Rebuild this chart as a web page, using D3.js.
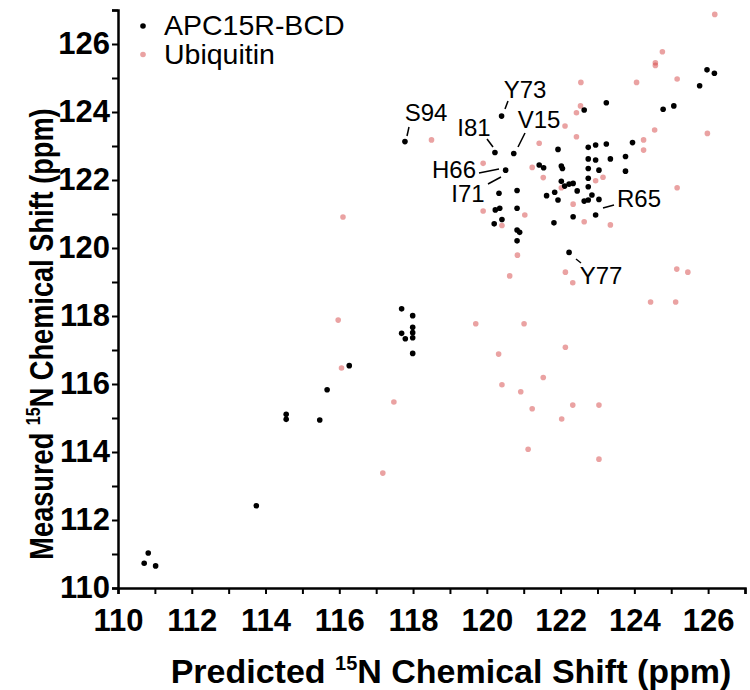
<!DOCTYPE html>
<html><head><meta charset="utf-8">
<script src="https://cdn.jsdelivr.net/npm/d3@7"></script>
<style>body{margin:0;background:#fff}</style>
</head><body>
<svg id="c" width="750" height="690"></svg>
<script>
// APC15R-BCD: predicted (x) and measured (y) 15N shifts
const apcX = [110.71,110.82,111.02,113.75,114.56,114.56,115.47,115.67,116.27,117.69,117.99,117.69,117.79,117.99,117.99,117.99,117.99,
  117.78,120.40,120.22,120.73,120.51,120.33,120.82,120.23,120.35,120.82,120.20,120.41,120.82,120.89,120.82,
  121.93,121.42,121.54,122.02,122.11,121.62,121.84,121.93,121.82,122.23,122.64,123.24,124.78,125.07,125.77,125.97,126.17,
  123.95,122.75,122.95,123.24,122.75,122.95,123.35,123.76,122.75,123.04,123.76,122.02,122.05,122.75,122.75,122.23,122.34,
  122.45,122.64,122.75,122.85,123.04,122.95,122.34];
const apcY = [110.73,111.03,110.65,112.42,115.11,114.96,114.94,115.83,116.54,118.21,118.01,117.49,117.33,117.67,117.51,117.36,116.90,
  123.13,123.88,122.81,122.78,122.29,121.61,121.69,121.12,121.17,121.17,120.71,120.84,120.53,120.46,120.21,
  122.90,122.44,122.36,121.96,121.82,121.54,121.64,121.41,120.74,119.87,124.06,124.27,124.08,124.18,124.77,125.24,125.14,
  123.10,122.96,123.03,123.06,122.62,122.59,122.62,122.69,122.34,122.29,122.26,122.41,122.34,122.05,121.80,121.88,121.90,
  121.68,121.38,121.41,121.56,121.43,120.97,120.92];
// Ubiquitin
const ubqX = [118.50,119.90,119.90,120.41,121.03,120.83,120.62,121.23,121.42,121.53,122.12,122.43,122.54,122.55,122.43,122.34,122.02,
  122.64,123.35,122.13,122.33,119.70,121.01,122.13,120.32,121.53,120.41,120.92,122.33,123.04,121.23,122.03,121.12,123.04,
  116.06,115.97,117.48,117.18,116.10,126.18,124.76,124.57,124.57,124.06,125.16,124.55,125.98,124.25,124.25,123.15,122.95,
  125.16,125.15,125.45,124.44,125.12];
const ubqY = [123.18,122.49,121.09,120.66,120.97,119.79,119.18,122.37,123.08,122.07,123.59,123.98,124.18,124.87,123.27,121.29,121.77,
  120.77,120.68,119.29,118.98,117.77,117.77,117.08,116.88,116.19,115.98,115.77,115.38,115.38,115.27,114.97,114.08,113.79,
  116.47,117.88,115.47,113.38,120.91,126.87,125.77,125.45,125.37,124.87,124.97,123.47,123.37,123.18,122.88,122.08,121.98,
  121.77,119.38,119.29,118.41,118.41];
// Residue labels
const labelNames = ["S94","Y73","I81","V15","H66","I71","R65","Y77"];
const seriesNames = ["APC15R-BCD","Ubiquitin"];
const xTickLabels = [110,112,114,116,118,120,122,124,126];
const yTickLabels = [110,112,114,116,118,120,122,124,126];

const svg = d3.select("#c");
const x = d3.scaleLinear().domain([110,127]).range([118,745]);
const y = d3.scaleLinear().domain([110,127]).range([588,10]);
const font = "'Liberation Sans', Arial, sans-serif";

const pink = "#d64545";
svg.append("g").selectAll("circle").data(ubqX.map((v,i)=>[v,ubqY[i]])).join("circle")
  .attr("cx",d=>x(d[0])).attr("cy",d=>y(d[1])).attr("r",2.8).attr("fill",pink).attr("fill-opacity",0.5);
svg.append("g").selectAll("circle").data(apcX.map((v,i)=>[v,apcY[i]])).join("circle")
  .attr("cx",d=>x(d[0])).attr("cy",d=>y(d[1])).attr("r",2.8).attr("fill","#000");

const ints = d3.range(110,128);
const xa = svg.append("g").attr("transform","translate(0,588)")
  .call(d3.axisBottom(x).tickValues(ints).tickSize(6).tickPadding(15)
    .tickFormat(d=>xTickLabels.includes(d)?d:""));
const ya = svg.append("g").attr("transform","translate(118,0)")
  .call(d3.axisLeft(y).tickValues(ints).tickSize(6).tickPadding(2)
    .tickFormat(d=>yTickLabels.includes(d)?d:""));
[xa,ya].forEach(a=>{
  a.select(".domain").attr("stroke-width",2.5).attr("stroke","#000");
  a.selectAll(".tick line").attr("stroke-width",2).attr("stroke","#000");
  a.selectAll(".tick text").attr("font-family",font).attr("font-weight","bold").attr("font-size",31).attr("fill","#000");
});

// Axis titles
function title(sel, pre){
  sel.attr("text-anchor","middle").attr("font-family",font).attr("font-weight","bold").attr("font-size",34);
  sel.append("tspan").text(pre);
  sel.append("tspan").attr("font-size",20).attr("dy",-13).text("15");
  sel.append("tspan").attr("dy",13).text("N Chemical Shift (ppm)");
}
title(svg.append("text").attr("x",451).attr("y",683), "Predicted ");
title(svg.append("text").attr("transform","translate(53,334) rotate(-90) scale(0.8,1)"), "Measured ");

// Legend
const leg = svg.append("g");
[[0,"#000",1],[1,pink,0.5]].forEach(([i,c,o])=>{
  leg.append("circle").attr("cx",143).attr("cy",26+i*28.5).attr("r",2.8).attr("fill",c).attr("fill-opacity",o);
  leg.append("text").attr("x",164).attr("y",35+i*29).attr("font-family",font).attr("font-size",28.5)
    .text(seriesNames[i]);
});

// Residue annotations
const lab = [
  {t:"S94", tx:426, ty:121, l:[409,127,407,136]},
  {t:"Y73", tx:525, ty:98,  l:[508,101,505,109]},
  {t:"I81", tx:474, ty:136, l:[487,139,493,147]},
  {t:"V15", tx:539, ty:128, l:[525,133,518,147]},
  {t:"H66", tx:454, ty:178, l:[479,173,499,169]},
  {t:"I71", tx:468, ty:202, l:[488,184,501,177]},
  {t:"R65", tx:639, ty:207, l:[603,208,614,205]},
  {t:"Y77", tx:601, ty:284, l:[576,259,581,263]}
];
lab.forEach(d=>{
  svg.append("line").attr("x1",d.l[0]).attr("y1",d.l[1]).attr("x2",d.l[2]).attr("y2",d.l[3])
    .attr("stroke","#000").attr("stroke-width",1.5);
  svg.append("text").attr("x",d.tx).attr("y",d.ty).attr("text-anchor","middle")
    .attr("font-family",font).attr("font-size",24).text(d.t);
});
</script>
</body></html>
